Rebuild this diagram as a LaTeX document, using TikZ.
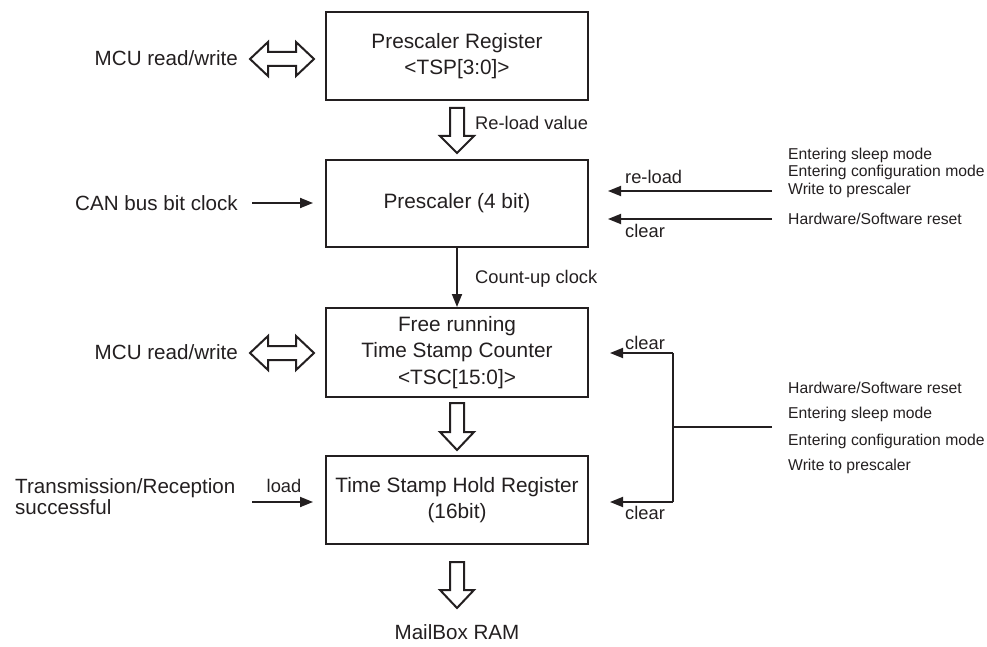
\documentclass[tikz,border=0pt]{standalone}
\usepackage{fontspec}
\setmainfont{Liberation Sans}
\usetikzlibrary{arrows.meta,calc}
\definecolor{ink}{HTML}{231F20}
\tikzset{
  x=1pt,y=-1pt,
  every node/.style={text=ink,inner sep=0pt},
  box/.style={draw=ink,line width=2pt,minimum width=262pt,align=center,font=\fontsize{20.8}{26.5}\selectfont},
  big/.style={font=\fontsize{20.6}{21.5}\selectfont},
  lab/.style={font=\fontsize{18.3}{22}\selectfont},
  small/.style={font=\fontsize{15.7}{17}\selectfont},
  arr/.style={draw=ink,line width=1.8pt,-{Triangle[length=13pt,width=10pt]}},
  ln/.style={draw=ink,line width=1.8pt},
  hollow/.style={draw=ink,line width=2pt,fill=white,line join=miter},
}
\newcommand\hdown[4]{% x, ytop, yhead, ytip
  \draw[hollow] ({#1-7},#2) -- ({#1+7},#2) -- ({#1+7},#3) -- ({#1+17},#3) -- (#1,#4) -- ({#1-17},#3) -- ({#1-7},#3) -- cycle;}
\newcommand\hboth[1]{% center y
  \draw[hollow] (250,#1) -- (268,{#1-17}) -- (268,{#1-7}) -- (296,{#1-7}) -- (296,{#1-17}) -- (314,#1) -- (296,{#1+17}) -- (296,{#1+7}) -- (268,{#1+7}) -- (268,{#1+17}) -- cycle;}
\begin{document}
\begin{tikzpicture}
\useasboundingbox (0,0) rectangle (987,647);
% boxes
\node[box,minimum height=88pt] (b1) at (457,56) {Prescaler Register\\<TSP[3:0]>};
\node[box,minimum height=87pt] (b2) at (457,203.5) {Prescaler (4 bit)};
\node[box,minimum height=89pt] (b3) at (457,352.5) {Free running\\Time Stamp Counter\\<TSC[15:0]>};
\node[box,minimum height=88pt] (b4) at (457,500) {Time Stamp Hold Register\\(16bit)};
% hollow arrows
\hdown{457}{108}{136}{153}
\hdown{457}{403}{432}{450}
\hdown{457}{562}{590}{608}
\node[lab,anchor=west] (rlv) at (475,123) {Re-load value};
\node[big] (mb) at (457,632) {MailBox RAM};
% MCU read/write
\node[big,anchor=east] (mcu1) at (238,58) {MCU read/write};
\hboth{59}
\node[big,anchor=east] (mcu2) at (238,352) {MCU read/write};
\hboth{353}
% CAN bus
\node[big,anchor=east] (can) at (238,203) {CAN bus bit clock};
\coordinate (cans) at (252,203);
\draw[arr,shorten >=12pt] (cans) -- (cans -| b2.west);
% count-up
\draw[arr] (b2.south) -- (b3.north);
\node[lab,anchor=west] (cu) at (475,279) {Count-up clock};
% right top
\node[small,anchor=west] (t1) at (788,155) {Entering sleep mode};
\node[small,anchor=west] (t2) at (788,172) {Entering configuration mode};
\node[small,anchor=west] (t3) at (788,190) {Write to prescaler};
\node[small,anchor=west] (t4) at (788,219) {Hardware/Software reset};
\coordinate (rls) at (772,191);
\coordinate (cls) at (772,219);
\draw[arr,shorten >=19pt] (rls) -- (rls -| b2.east);
\draw[arr,shorten >=19pt] (cls) -- (cls -| b2.east);
\node[lab,anchor=west] (rl) at (625,177) {re-load};
\node[lab,anchor=west] (cl1) at (625,231) {clear};
% right bottom
\node[small,anchor=west] (u1) at (788,388) {Hardware/Software reset};
\node[small,anchor=west] (u2) at (788,414) {Entering sleep mode};
\node[small,anchor=west] (u3) at (788,441) {Entering configuration mode};
\node[small,anchor=west] (u4) at (788,466) {Write to prescaler};
\coordinate (src) at (772,427);
\coordinate (jm) at (673,427);
\coordinate (jt) at (673,353);
\coordinate (jb) at (673,502);
\draw[ln] (src) -- (jm);
\draw[ln] (jt) -- (jb);
\draw[arr,shorten >=21pt] (jt) -- (jt -| b3.east);
\draw[arr,shorten >=21pt] (jb) -- (jb -| b4.east);
\node[lab,anchor=west] (cl2) at (625,343) {clear};
\node[lab,anchor=west] (cl3) at (625,513) {clear};
% load
\node[big,anchor=west,align=left] (tr) at (15,496.5) {Transmission/Reception\\successful};
\node[lab] (ld) at (284,486) {load};
\coordinate (lds) at (252,502);
\draw[arr,shorten >=12pt] (lds) -- (lds -| b4.west);
\end{tikzpicture}
\end{document}
